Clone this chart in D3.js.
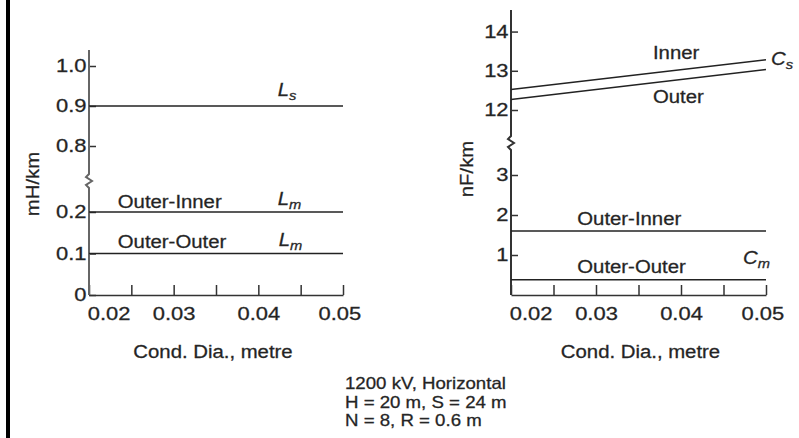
<!DOCTYPE html>
<html>
<head>
<meta charset="utf-8">
<script src="https://cdn.jsdelivr.net/npm/d3@7"></script>
<style>
  body { margin: 0; background: #fff; }
  svg text { font-family: "Liberation Sans", Arial, sans-serif; fill: #222; stroke: #333; stroke-width: 0.3; }
</style>
</head>
<body>
<svg id="chart" width="799" height="438"></svg>
<script>
// x values (conductor diameter, metre)
var diaTicks = [0.02, 0.025, 0.03, 0.035, 0.04, 0.045, 0.05];
var diaLabels = [0.02, 0.03, 0.04, 0.05];
var lineX = [0.02, 0.05];

// left panel - inductance mH/km
var lTicks = [0, 0.1, 0.2, 0.8, 0.9, 1.0];
var Ls = [0.9, 0.9];
var LmOuterInner = [0.2, 0.2];
var LmOuterOuter = [0.1, 0.1];

// right panel - capacitance nF/km
var cTicks = [1, 2, 3, 12, 13, 14];
var CsInner = [12.52, 13.28];
var CsOuter = [12.27, 13.03];
var CmOuterInner = [1.6, 1.6];
var CmOuterOuter = [0.38, 0.38];

var footLines = ["1200 kV, Horizontal", "H = 20 m, S = 24 m", "N = 8, R = 0.6 m"];

var svg = d3.select("#chart");
var SX = 1.13;  // the scan is a bit stretched sideways
var SXN = 1.22; // digits look even wider

svg.append("rect").attr("x", 6).attr("y", 0).attr("width", 4).attr("height", 438).attr("fill", "#000");

function txt(g, str, x, y, size, anchor) {
  return g.append("text")
    .attr("transform", `translate(${x},${y}) scale(${SX},1)`)
    .attr("font-size", size)
    .attr("text-anchor", anchor || "start")
    .text(str);
}

// italic letter + subscript
function subLabel(g, main, sub, x, y) {
  var t = g.append("text")
    .attr("transform", `translate(${x},${y}) scale(${SX},1)`)
    .attr("font-size", 18).attr("font-style", "italic");
  t.append("tspan").text(main);
  t.append("tspan").attr("font-size", 13).attr("dy", 4).text(sub);
}

function panel(opt) {
  var g = svg.append("g");
  var x = d3.scaleLinear().domain([0.02, 0.05]).range(opt.xRange);
  var y = d3.scaleLinear().domain(opt.yDomain).range(opt.yRange);
  var x0 = opt.xRange[0];
  var base = y(0);

  // bottom axis, ticks pointing up
  var xa = d3.axisBottom(x).tickValues(diaTicks).tickSizeInner(-10).tickSizeOuter(0).tickPadding(12)
    .tickFormat(d => diaLabels.some(v => Math.abs(v - d) < 1e-9) ? d3.format(".2f")(d) : "");
  var gx = g.append("g").attr("transform", `translate(0,${base})`).call(xa);
  gx.select(".domain").attr("stroke", "#333").attr("stroke-width", 1.5);
  gx.selectAll(".tick line").attr("stroke", "#333").attr("stroke-width", 1.5);
  gx.selectAll(".tick text").attr("font-size", 18).attr("fill", "#222")
    .attr("x", (d, i) => i === 0 ? 16 : (i === diaTicks.length - 1 ? -3 : 0))
    .attr("transform", `scale(${SXN},1)`);

  // left axis, ticks pointing right
  var ya = d3.axisLeft(y).tickValues(opt.yTicks).tickSizeInner(-7).tickSizeOuter(0).tickPadding(2)
    .tickFormat(opt.fmt);
  var gy = g.append("g").attr("transform", `translate(${x0},0)`).call(ya);
  gy.select(".domain").remove();
  gy.selectAll(".tick line").attr("stroke", "#333").attr("stroke-width", 1.5);
  gy.selectAll(".tick text").attr("font-size", 18).attr("fill", "#222")
    .attr("transform", `scale(${SXN},1)`);

  // axis line with break
  var b = opt.breakY;
  g.append("path")
    .attr("d", `M${x0},${base}L${x0},${b + 7}L${x0 - 3},${b + 4}L${x0 + 3},${b}L${x0 - 3},${b - 4}L${x0},${b - 7}L${x0},${opt.yRange[opt.yRange.length - 1]}`)
    .attr("fill", "none").attr("stroke", opt.axisColor).attr("stroke-width", 2);

  // data lines
  var line = d3.line().x((d, i) => x(lineX[i])).y(d => y(d));
  opt.series.forEach(s => {
    g.append("path").attr("d", line(s)).attr("fill", "none")
      .attr("stroke", "#222").attr("stroke-width", 1.5);
  });

  // titles
  txt(g, "Cond. Dia., metre", (opt.xRange[0] + opt.xRange[1]) / 2 + opt.titleShift, 358, 18, "middle");
  g.append("text")
    .attr("transform", `translate(${opt.yTitleX},${opt.yTitleY}) rotate(-90) scale(${SX},1)`)
    .attr("font-size", 18).attr("text-anchor", "middle").text(opt.yTitle);

  return { g: g, x: x, y: y };
}

var left = panel({
  xRange: [89, 343], yDomain: [0, 0.2, 0.8, 1.04], yRange: [295, 212, 146, 50],
  yTicks: lTicks, fmt: d => d === 0 ? "0" : d.toFixed(1), breakY: 181,
  axisColor: "#666", series: [Ls, LmOuterInner, LmOuterOuter],
  yTitle: "mH/km", yTitleX: 39, yTitleY: 184, titleShift: -3
});
var right = panel({
  xRange: [511, 766], yDomain: [0, 3, 12, 14.55], yRange: [295, 175, 110, 10],
  yTicks: cTicks, fmt: d3.format("d"), breakY: 143,
  axisColor: "#333", series: [CsInner, CsOuter, CmOuterInner, CmOuterOuter],
  yTitle: "nF/km", yTitleX: 473, yTitleY: 169, titleShift: 2
});

// left annotations
var lx = left.x, ly = left.y;
subLabel(left.g, "L", "s", lx(0.0423), ly(0.9) - 10);
txt(left.g, "Outer-Inner", lx(0.0234), ly(0.2) - 4, 18);
subLabel(left.g, "L", "m", lx(0.0423), ly(0.2) - 7);
txt(left.g, "Outer-Outer", lx(0.0234), ly(0.1) - 6, 18);
subLabel(left.g, "L", "m", lx(0.0424), ly(0.1) - 8);

// right annotations
var rx = right.x, ry = right.y;
txt(right.g, "Inner", rx(0.0367), 59, 18);
txt(right.g, "Outer", rx(0.0367), 103, 18);
subLabel(right.g, "C", "s", rx(0.05) + 5, ry(CsInner[1]) + 5);
txt(right.g, "Outer-Inner", rx(0.0278), ry(CmOuterInner[0]) - 6, 18);
txt(right.g, "Outer-Outer", rx(0.0278), ry(CmOuterOuter[0]) - 7, 18);
subLabel(right.g, "C", "m", rx(0.0473), ry(CmOuterOuter[0]) - 16);

// footnote
footLines.forEach((s, i) => txt(svg, s, 345, 389 + i * 18.5, 16.5));
</script>
</body>
</html>
